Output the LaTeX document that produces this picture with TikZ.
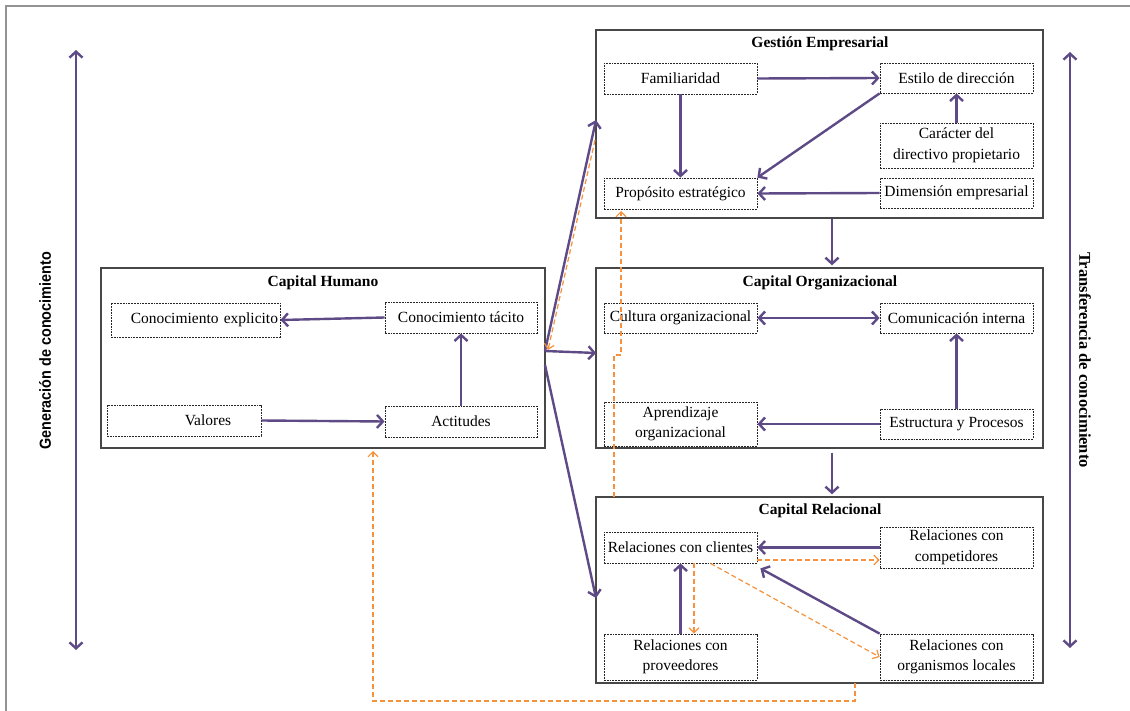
\documentclass[tikz,border=0pt]{standalone}
\usepackage{fontspec}
\setmainfont{Liberation Serif}
\newfontfamily\sidefont[FakeStretch=0.9]{Liberation Sans}
\usetikzlibrary{arrows.meta}
\definecolor{linkpurple}{HTML}{5E4A86}
\definecolor{fborange}{HTML}{F5923E}
\begin{document}
\begin{tikzpicture}[x=1pt,y=-1pt,
  every node/.style={font=\fontsize{15.5}{20.5}\selectfont},
  group/.style={draw=black!72, line width=1.4pt, fill=white, inner sep=0pt},
  sub/.style={draw=black!85, dash pattern=on 1.8pt off 1pt, line width=0.8pt,
    fill=white, align=center, inner sep=1pt, minimum width=153pt},
  ttl/.style={font=\fontsize{15.5}{17}\selectfont\bfseries},
  link/.style={draw=linkpurple, line width=2.4pt,
    -{Straight Barb[length=6pt,width=13pt]}},
  both/.style={draw=linkpurple, line width=2.4pt,
    {Straight Barb[length=6pt,width=13pt]}-{Straight Barb[length=6pt,width=13pt]}},
  fb/.style={draw=fborange, line width=1.2pt, dash pattern=on 5pt off 3pt,
    -{Straight Barb[length=5pt,width=10pt]}},
]
\path[use as bounding box] (0,0) rectangle (1130,711);
\draw[gray!85, line width=1.5pt] (6,711) -- (6,6) -- (1130,6);

% side axes
\coordinate (gT) at (76,50);
\coordinate (gB) at (76,650);
\draw[both] (gB) -- (gT);
\node[rotate=90, font=\fontsize{16}{18}\sidefont\bfseries] (gen) at (45,351) {Generación de conocimiento};
\coordinate (tT) at (1070,52);
\coordinate (tB) at (1070,648);
\draw[both] (tT) -- (tB);
\node[rotate=-90, font=\fontsize{16.5}{18}\selectfont\bfseries] (tra) at (1085,360) {Transferencia de conocimiento};

% group frames
\node[group, minimum width=444pt, minimum height=180pt] (ch) at (323,358) {};
\node[group, minimum width=447pt, minimum height=188pt] (ge) at (819.5,124) {};
\node[group, minimum width=447pt, minimum height=180pt] (co) at (819.5,358) {};
\node[group, minimum width=447pt, minimum height=186pt] (cr) at (819.5,590) {};

\node[ttl] (ch-t) at (323,283) {Capital Humano};
\node[ttl] (ge-t) at (820,44) {Gestión Empresarial};
\node[ttl] (co-t) at (820,283) {Capital Organizacional};
\node[ttl] (cr-t) at (820,511) {Capital Relacional};

% Gestión Empresarial
\node[sub, minimum height=31pt] (fam) at (680.5,78.5) {Familiaridad};
\node[sub, minimum height=30pt] (est) at (956.5,78) {Estilo de dirección};
\node[sub, minimum height=45pt] (car) at (956.5,145.5) {Carácter del\\directivo propietario};
\node[sub, minimum height=31pt] (pro) at (680.5,193.5) {Propósito estratégico};
\node[sub, minimum height=30pt] (dim) at (956.5,193) {Dimensión empresarial};

% Capital Humano
\node[sub, minimum width=169pt, minimum height=34pt, text width=165pt, align=right] (cexp) at (195.5,320) {Conocimiento explicito};
\node[sub, minimum width=152pt, minimum height=31pt] (ctac) at (461,317.5) {Conocimiento tácito};
\node[sub, minimum width=154pt, minimum height=31pt] (val) at (184,420.5) {\hspace*{48pt}Valores};
\node[sub, minimum width=152pt, minimum height=31pt] (act) at (461,421.5) {Actitudes};

% Capital Organizacional
\node[sub, minimum height=30pt] (cul) at (680.5,318) {Cultura organizacional};
\node[sub, minimum height=30pt] (com) at (956.5,318) {Comunicación interna};
\node[sub, minimum height=44pt] (apr) at (680.5,424) {Aprendizaje\\organizacional};
\node[sub, minimum height=30pt] (estr) at (956.5,424) {Estructura y Procesos};

% Capital Relacional
\node[sub, minimum height=31pt] (cli) at (680.5,547.5) {Relaciones con clientes};
\node[sub, minimum height=41pt] (comp) at (956.5,547.5) {Relaciones con\\competidores};
\node[sub, minimum height=46pt] (prov) at (680.5,657) {Relaciones con\\proveedores};
\node[sub, minimum height=46pt] (org) at (956.5,657) {Relaciones con\\organismos locales};

% links inside Gestión Empresarial
\draw[link] (fam.east) -- (est.west);
\draw[link] (fam.south) -- (pro.north);
\draw[link] (est.south west) -- (pro.north east);
\draw[link] (car.north) -- (est.south);
\draw[link] (dim.west) -- (pro.east);

% links inside Capital Humano
\draw[link] (ctac.west) -- (cexp.east);
\draw[link] (act.north) -- (ctac.south);
\draw[link] (val.east) -- (act.west);

% links inside Capital Organizacional
\draw[both] (cul.east) -- (com.west);
\draw[link] (estr.north) -- (com.south);
\draw[link] (estr.west) -- (apr.east);

% links inside Capital Relacional
\draw[link] (comp.west) -- (cli.east);
\draw[link] (prov.north) -- (cli.south);
\draw[link] (org.north west) -- ([xshift=3pt,yshift=-5pt]cli.south east);

% links between the groups
\draw[link] ([xshift=12.5pt]ge.south) -- ([xshift=12.5pt,yshift=2pt]co.north);
\draw[link] ([xshift=12.5pt,yshift=-4pt]co.south) -- ([xshift=12.5pt,yshift=2pt]cr.north);
\coordinate (hA) at (545,351);
\coordinate (hB) at (545,365);
\coordinate (geL) at (596,120);
\coordinate (coL) at (596,353);
\coordinate (crL) at (596,598);
\draw[link] (hA) -- (geL);
\draw[link] (hA) -- (coL);
\draw[link] (hB) -- (crL);

% feedback paths
\coordinate (o1s) at (595,140);
\coordinate (o1e) at (548,350);
\draw[fb] (o1s) -- (o1e);
\coordinate (o2s) at (614,497);
\coordinate (o2e) at (621,211);
\draw[fb] (o2s) -- ++(0,-142) -- ++(7,0) -- (o2e);
\coordinate (o3s) at (855,683);
\coordinate (o3e) at (373,451);
\draw[fb] (o3s) -- ++(0,18) -| (o3e);
\draw[fb] ([yshift=-12.5pt]cli.east) -- ([yshift=-12.5pt]comp.west);
\draw[fb] ([xshift=13.5pt]cli.south) -- ([xshift=13.5pt]prov.north);
\draw[fb] ([xshift=30pt]cli.south) -- (org.west);
\end{tikzpicture}
\end{document}
